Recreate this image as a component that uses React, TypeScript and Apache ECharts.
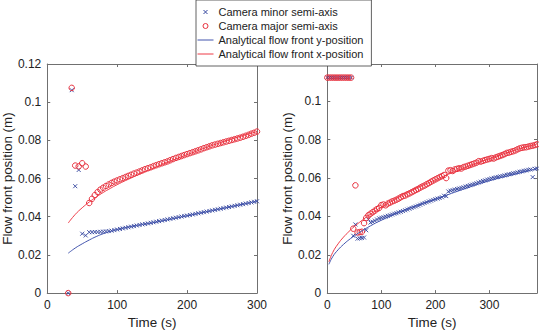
import React, { useEffect, useRef } from "react";
import * as echarts from "echarts";

// ---------- Left panel data ----------
const leftTimes = [
  30, 35, 40, 45, 50, 55,
  60, 64, 68, 72, 76, 80, 84, 88, 92, 96,
  100, 104, 108, 112, 116, 120, 124, 128, 132, 136,
  140, 144, 148, 152, 156, 160, 164, 168, 172, 176,
  180, 184, 188, 192, 196, 200, 204, 208, 212, 216,
  220, 224, 228, 232, 236, 240, 244, 248, 252, 256,
  260, 264, 268, 272, 276, 280, 284, 288, 292, 296,
  300,
];
const leftMinor = [
  0, 0.1063, 0.056, 0.0645, 0.0311, 0.0302,
  0.0319, 0.0319, 0.032, 0.032, 0.0321, 0.0322, 0.0323, 0.0325, 0.0327, 0.033,
  0.0333, 0.0336, 0.0339, 0.0342, 0.0345, 0.0348, 0.0351, 0.0354, 0.0357, 0.036,
  0.0362, 0.0365, 0.0368, 0.0371, 0.0374, 0.0377, 0.038, 0.0383, 0.0386, 0.0389,
  0.0392, 0.0395, 0.0398, 0.0401, 0.0404, 0.0406, 0.0409, 0.0412, 0.0415, 0.0418,
  0.0421, 0.0424, 0.0427, 0.043, 0.0433, 0.0436, 0.0439, 0.0442, 0.0445, 0.0448,
  0.0451, 0.0454, 0.0457, 0.046, 0.0463, 0.0466, 0.0469, 0.0472, 0.0475, 0.0478,
  0.0481,
];
const leftMajor = [
  0, 0.1075, 0.0668, 0.0664, 0.068, 0.0663,
  0.0472, 0.0494, 0.0513, 0.0529, 0.0542, 0.0552, 0.0561, 0.0569, 0.0577, 0.0584,
  0.059, 0.0596, 0.0602, 0.0608, 0.0614, 0.062, 0.0626, 0.0631, 0.0637, 0.0643,
  0.0649, 0.0654, 0.0659, 0.0665, 0.067, 0.0675, 0.068, 0.0685, 0.069, 0.0696,
  0.0702, 0.0708, 0.0713, 0.0718, 0.0723, 0.0728, 0.0733, 0.0738, 0.0743, 0.0748,
  0.0753, 0.0759, 0.0764, 0.0769, 0.0774, 0.0778, 0.0782, 0.0786, 0.079, 0.0794,
  0.0798, 0.0802, 0.0806, 0.081, 0.0814, 0.0819, 0.0824, 0.0829, 0.0835, 0.084,
  0.0846,
];
const leftLineTimes = [30, 40, 50, 60, 70, 80, 90, 100, 120, 150, 200, 250, 300];
const leftLineY = [0.0209, 0.0236, 0.0258, 0.0278, 0.0296, 0.0311, 0.0323, 0.0333, 0.0349, 0.0368, 0.0405, 0.0443, 0.0481];
const leftLineX = [0.0367, 0.0412, 0.0447, 0.0477, 0.0503, 0.0527, 0.0548, 0.0568, 0.0603, 0.0652, 0.0725, 0.0791, 0.0846];

// ---------- Right panel data ----------
const rightTimes = [
  0, 4, 8, 12, 16, 20, 24, 28, 32, 36, 40, 44,
  48, 52, 56, 60, 64, 68, 72, 76, 80, 84,
  88, 92, 96, 100, 104, 108, 112, 116, 120, 124,
  128, 132, 136, 140, 144, 148, 152, 156, 160, 164,
  168, 172, 176, 180, 184, 188, 192, 196, 200, 204,
  208, 212, 216, 220, 224, 228, 232, 236, 240, 244,
  248, 252, 256, 260, 264, 268, 272, 276, 280, 284,
  288, 292, 296, 300, 304, 308, 312, 316, 320, 324,
  328, 332, 336, 340, 344, 348, 352, 356, 360, 364,
  368, 372, 376, 380, 384, 388,
];
const rightMinor = [
  0.1124, 0.1124, 0.1124, 0.1124, 0.1124, 0.1124, 0.1124, 0.1124, 0.1124, 0.1124, 0.1124, 0.1124,
  0.0299, 0.0358, 0.0284, 0.0286, 0.0288, 0.029, 0.0328, 0.0384, 0.0368, 0.0372,
  0.0378, 0.0384, 0.039, 0.0393, 0.0396, 0.0399, 0.0403, 0.0406, 0.041, 0.0414,
  0.0417, 0.0421, 0.0424, 0.0428, 0.0432, 0.0436, 0.044, 0.0444, 0.0448, 0.0452,
  0.0456, 0.0461, 0.0466, 0.047, 0.0474, 0.0478, 0.0482, 0.0486, 0.049, 0.0493,
  0.0496, 0.05, 0.0508, 0.0506, 0.053, 0.0534, 0.0537, 0.054, 0.0543, 0.0546,
  0.0549, 0.0552, 0.0556, 0.0559, 0.0563, 0.0566, 0.057, 0.0573, 0.0577, 0.0581,
  0.0585, 0.0588, 0.0592, 0.0595, 0.0598, 0.0601, 0.0604, 0.0606, 0.0609, 0.0611,
  0.0614, 0.0617, 0.062, 0.0622, 0.0625, 0.0627, 0.063, 0.0633, 0.0635, 0.0638,
  0.064, 0.0643, 0.0645, 0.0605, 0.0648, 0.065,
];
const rightMajor = [
  0.1124, 0.1124, 0.1124, 0.1124, 0.1124, 0.1124, 0.1124, 0.1124, 0.1124, 0.1124, 0.1124, 0.1124,
  0.0336, 0.0562, 0.0316, 0.0318, 0.032, 0.0365, 0.0392, 0.0406, 0.0414, 0.0422,
  0.043, 0.0438, 0.0444, 0.0459, 0.0462, 0.0458, 0.0467, 0.0472, 0.0478, 0.0482,
  0.0487, 0.0493, 0.05, 0.0506, 0.0509, 0.0515, 0.052, 0.0526, 0.0532, 0.0538,
  0.0543, 0.055, 0.0556, 0.0561, 0.0568, 0.0574, 0.0581, 0.0587, 0.0593, 0.0599,
  0.0605, 0.061, 0.0616, 0.06, 0.0639, 0.0641, 0.0637, 0.0645, 0.0648, 0.0651,
  0.065, 0.0657, 0.066, 0.0664, 0.0668, 0.0672, 0.0676, 0.068, 0.0688, 0.0686,
  0.069, 0.0694, 0.0697, 0.07, 0.0704, 0.0702, 0.0708, 0.0712, 0.0716, 0.072,
  0.0725, 0.0731, 0.0733, 0.0737, 0.074, 0.0744, 0.075, 0.0755, 0.0758, 0.076,
  0.0761, 0.0764, 0.0767, 0.0769, 0.0772, 0.0776,
];
const rightLineTimes = [3, 10, 20, 30, 40, 50, 60, 80, 100, 150, 200, 250, 300, 350, 388];
const rightLineY = [0.015, 0.019, 0.0226, 0.0254, 0.0278, 0.0298, 0.0317, 0.0351, 0.038, 0.0442, 0.049, 0.054, 0.0586, 0.0622, 0.065];
const rightLineX = [0.0163, 0.0212, 0.0257, 0.0292, 0.0321, 0.0347, 0.037, 0.0412, 0.0448, 0.0526, 0.0591, 0.0649, 0.0701, 0.0748, 0.0778];

const xTicks = [0, 100, 200, 300];
const yTicks = [0, 0.02, 0.04, 0.06, 0.08, 0.1, 0.12];

const NAMES = [
  "Camera minor semi-axis",
  "Camera major semi-axis",
  "Analytical flow front y-position",
  "Analytical flow front x-position",
];

const BLUE = "#34469f";
const RED = "#e8323f";
const BLUE_LINE = "#4254ad";
const RED_LINE = "#ee3a46";
const AXIS = "#707070";
const TEXT = "#222222";
const FONT = "'Liberation Sans', Arial, Helvetica, sans-serif";

const zip = (xs: number[], ys: number[]) => xs.map((x, i) => [x, ys[i]]);

const CROSS = "path://M0 0L10 10M10 0L0 10";

function xAxesFor(gridIndex: number, max: number) {
  const common = {
    type: "value",
    gridIndex,
    min: xTicks[0],
    max,
    interval: xTicks[1] - xTicks[0],
    splitLine: { show: false },
    axisLine: { show: true, onZero: false, lineStyle: { color: AXIS, width: 1 } },
    axisTick: { show: true, inside: true, length: 3, lineStyle: { color: AXIS } },
  };
  return [
    {
      ...common,
      position: "bottom",
      name: "Time (s)",
      nameLocation: "middle",
      nameGap: 20,
      nameTextStyle: { color: TEXT, fontSize: 13.4, fontFamily: FONT },
      axisLabel: { color: TEXT, fontSize: 12, margin: 6, fontFamily: FONT, showMaxLabel: max === 300 },
    },
    { ...common, position: "top", axisLabel: { show: false } },
  ];
}

function yAxesFor(gridIndex: number, max: number, gap: number) {
  const common = {
    type: "value",
    gridIndex,
    min: yTicks[0],
    max,
    interval: yTicks[1] - yTicks[0],
    splitLine: { show: false },
    axisLine: { show: true, onZero: false, lineStyle: { color: AXIS, width: 1 } },
    axisTick: { show: true, inside: true, length: 3, lineStyle: { color: AXIS } },
  };
  return [
    {
      ...common,
      position: "left",
      name: "Flow front position (m)",
      nameLocation: "middle",
      nameGap: gap,
      nameTextStyle: { color: TEXT, fontSize: 13.4, fontFamily: FONT },
      axisLabel: { color: TEXT, fontSize: 12, margin: 6, fontFamily: FONT, showMaxLabel: max === 0.12 },
    },
    { ...common, position: "right", axisLabel: { show: false } },
  ];
}

function scatterSeries(name: string, data: number[][], xi: number, yi: number, cross: boolean) {
  return {
    type: "scatter",
    name,
    xAxisIndex: xi,
    yAxisIndex: yi,
    data,
    symbol: cross ? CROSS : "circle",
    symbolSize: cross ? 4 : 5.5,
    itemStyle: {
      color: "transparent",
      borderColor: cross ? BLUE : RED,
      borderWidth: cross ? 0.9 : 1,
      opacity: 1,
    },
    z: cross ? 2 : 3,
  };
}

function lineSeries(name: string, data: number[][], xi: number, yi: number, color: string) {
  return {
    type: "line",
    name,
    xAxisIndex: xi,
    yAxisIndex: yi,
    data,
    symbol: "none",
    smooth: true,
    lineStyle: { color, width: 1 },
    itemStyle: { color },
    z: 4,
  };
}

const LINE_ICON = "path://M0 0M16 13M0 6.5L16 6.5";

export default function App() {
  const ref = useRef<HTMLDivElement>(null);
  useEffect(() => {
    const chart = echarts.init(ref.current!, null, { renderer: "svg" });
    const option: any = {
      animation: false,
      backgroundColor: "#ffffff",
      textStyle: { fontFamily: FONT },
      grid: [
        { left: 40.5, right: 282, top: 64, bottom: 34.7, containLabel: false },
        { left: 327.3, right: 2, top: 64, bottom: 34.7, containLabel: false },
      ],
      xAxis: [...xAxesFor(0, 300), ...xAxesFor(1, 388)],
      yAxis: [...yAxesFor(0, 0.12, 28), ...yAxesFor(1, 0.1195, 31)],
      legend: {
        orient: "vertical",
        left: 196,
        top: 0,
        padding: [5, 8, 5, 1],
        itemGap: 0,
        itemWidth: 16,
        itemHeight: 13,
        borderColor: "#3a3a3a",
        borderWidth: 0.8,
        backgroundColor: "#ffffff",
        textStyle: { color: TEXT, fontSize: 11, fontFamily: FONT },
        itemStyle: { borderWidth: 1 },
        data: [
          { name: NAMES[0], icon: "path://M0 0M16 13M6 4.5L10 8.5M10 4.5L6 8.5" },
          { name: NAMES[1], icon: "path://M0 0M16 13M5.5 6.5A2.5 2.5 0 1 0 10.5 6.5A2.5 2.5 0 1 0 5.5 6.5Z" },
          {
            name: NAMES[2],
            icon: LINE_ICON,
            itemStyle: { color: "transparent", borderColor: BLUE_LINE, borderWidth: 1 },
          },
          {
            name: NAMES[3],
            icon: LINE_ICON,
            itemStyle: { color: "transparent", borderColor: RED_LINE, borderWidth: 1 },
          },
        ],
      },
      series: [
        scatterSeries(NAMES[0], zip(leftTimes, leftMinor), 0, 0, true),
        scatterSeries(NAMES[1], zip(leftTimes, leftMajor), 0, 0, false),
        lineSeries(NAMES[2], zip(leftLineTimes, leftLineY), 0, 0, BLUE_LINE),
        lineSeries(NAMES[3], zip(leftLineTimes, leftLineX), 0, 0, RED_LINE),
        scatterSeries(NAMES[0], zip(rightTimes, rightMinor), 2, 2, true),
        scatterSeries(NAMES[1], zip(rightTimes, rightMajor), 2, 2, false),
        lineSeries(NAMES[2], zip(rightLineTimes, rightLineY), 2, 2, BLUE_LINE),
        lineSeries(NAMES[3], zip(rightLineTimes, rightLineX), 2, 2, RED_LINE),
      ],
    };
    chart.setOption(option);
    return () => chart.dispose();
  }, []);
  return (
    <div
      ref={ref}
      style={{ position: "absolute", left: 0, top: 0, width: 539, height: 334 }}
    />
  );
}
